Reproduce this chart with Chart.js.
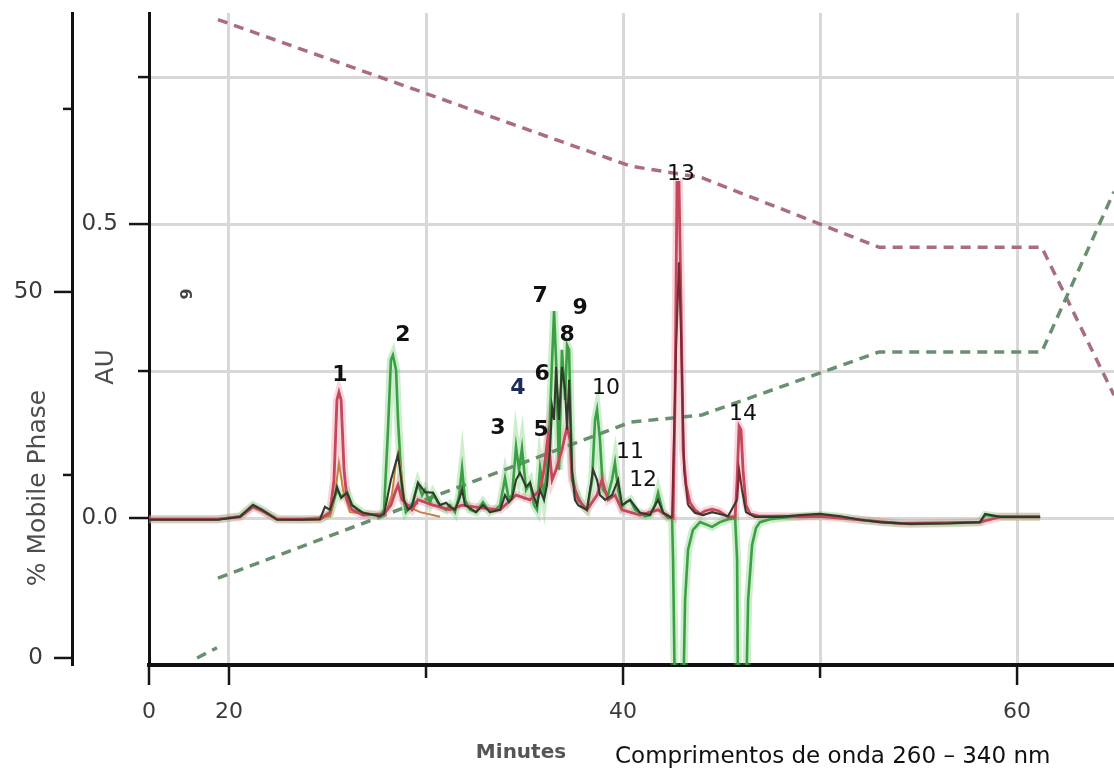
<!DOCTYPE html>
<html><head><meta charset="utf-8">
<style>html,body{margin:0;padding:0;background:#fff;} canvas{display:block;}</style>
<script src="https://cdn.jsdelivr.net/npm/chart.js@4.4.0/dist/chart.umd.min.js"></script>
</head><body>
<canvas id="c" width="1114" height="773"></canvas>
<script>
// ---------- axis ranges & ticks ----------
const xMin = 15.94, xMax = 64.92;
const xTickValues = [15.94, 20, 30, 40, 50, 60];
const xTickLabels = ['0', '20', '', '40', '', '60'];
const xMajorTicks = [15.94, 20, 40, 60];
const xMinorTicks = [30, 50];
const auMin = -0.25, auMax = 0.859;
const auTickValues = [0, 0.25, 0.5, 0.75];
const auTickLabels = ['0.0', '', '0.5', ''];
const auMajorTicks = [0, 0.5];
const auMinorTicks = [0.25, 0.75];
const pctMin = -0.96, pctMax = 88.1;
const pctTickValues = [0, 25, 50, 75];
const pctTickLabels = ['0', '', '50', ''];
const pctMajorTicks = [0, 50];
const pctMinorTicks = [25, 75];

// ---------- mobile phase gradient (%) ----------
const gradientMin = [19.44, 40.36, 44.0, 53.0, 61.25, 64.92];
const solventBPct = [87.2, 67.2, 65.6, 56.1, 56.1, 35.9];
const solventAPct = [10.9, 32.2, 33.2, 41.8, 41.8, 63.7];
const stubMin = [18.38, 19.39];
const stubPct = [0, 1.4];

// ---------- chromatogram traces (minutes, AU) ----------
const greenMin = [15.94,19.44,20.56,21.22,21.68,22.44,23.60,24.62,25.13,25.48,25.69,25.99,26.24,26.80,27.66,27.87,28.07,28.22,28.32,28.48,28.58,28.78,28.98,29.29,29.59,29.80,29.95,30.20,30.36,30.71,31.02,31.22,31.47,31.68,31.83,31.98,32.23,32.54,32.89,33.25,33.55,33.76,34.01,34.21,34.37,34.57,34.72,34.87,35.08,35.28,35.48,35.63,35.79,35.99,36.14,36.29,36.40,36.50,36.60,36.75,36.90,37.06,37.16,37.26,37.41,37.56,37.72,37.92,38.17,38.43,38.58,38.68,38.83,38.98,39.24,39.44,39.59,39.75,39.95,40.15,40.36,40.61,40.86,41.12,41.37,41.62,41.78,42.03,42.28,42.49,42.54,42.64,43.05,43.15,43.30,43.55,43.91,44.52,44.92,45.33,45.69,45.79,45.84,46.24,46.35,46.55,46.75,46.95,47.46,47.97,48.98,50.00,51.02,52.03,53.05,54.57,56.60,58.12,58.38,59.14,61.17];
const greenAU = [-0.002,-0.002,0.003,0.022,0.014,-0.002,-0.003,-0.002,0.007,0.048,0.036,0.044,0.022,0.009,0.003,0.014,0.150,0.269,0.277,0.252,0.167,0.048,0.010,0.022,0.058,0.039,0.048,0.026,0.041,0.020,0.014,0.022,0.010,0.039,0.085,0.031,0.014,0.010,0.027,0.010,0.015,0.022,0.068,0.031,0.039,0.121,0.082,0.119,0.048,0.060,0.022,0.014,0.085,0.039,0.082,0.167,0.269,0.352,0.269,0.082,0.286,0.201,0.294,0.286,0.077,0.048,0.036,0.022,0.014,0.065,0.167,0.184,0.133,0.048,0.039,0.065,0.094,0.048,0.019,0.027,0.031,0.014,0.009,0.003,0.005,0.022,0.043,0.009,0.000,0.000,-0.071,-0.320,-0.320,-0.139,-0.054,-0.020,-0.007,-0.015,-0.007,-0.002,0.000,-0.071,-0.320,-0.320,-0.139,-0.046,-0.017,-0.007,-0.002,0.000,0.003,0.005,0.002,-0.003,-0.007,-0.010,-0.009,-0.007,0.005,0.002,0.002];

const redMin = [15.94,19.44,20.56,21.22,21.68,22.44,24.62,25.13,25.33,25.48,25.58,25.69,25.84,25.99,26.24,26.80,27.87,28.22,28.48,28.58,28.78,29.29,29.59,30.36,31.22,31.83,32.89,33.76,34.57,35.28,35.79,35.99,36.19,36.40,36.60,36.90,37.16,37.31,37.41,37.72,38.17,38.68,38.93,39.24,39.59,39.95,40.86,41.78,42.28,42.54,42.64,42.74,42.84,42.94,43.05,43.20,43.40,43.65,43.91,44.16,44.52,44.87,45.33,45.69,45.79,45.89,45.99,46.09,46.24,46.45,46.95,47.97,48.98,50.00,52.03,54.06,58.12,59.14,61.17];
const redAU = [-0.002,-0.002,0.002,0.019,0.012,-0.002,-0.002,0.010,0.065,0.201,0.214,0.201,0.082,0.031,0.014,0.005,0.007,0.022,0.048,0.056,0.031,0.014,0.031,0.022,0.014,0.022,0.017,0.014,0.039,0.031,0.048,0.082,0.138,0.065,0.082,0.116,0.155,0.133,0.065,0.031,0.014,0.039,0.065,0.031,0.039,0.014,0.005,0.014,0.003,0.000,0.201,0.571,0.571,0.371,0.116,0.056,0.026,0.014,0.007,0.012,0.015,0.012,0.002,0.002,0.065,0.156,0.150,0.082,0.022,0.007,0.003,0.003,0.002,0.003,-0.003,-0.009,-0.007,0.002,0.002];

const darkMin = [15.94,19.44,20.56,21.22,21.68,22.44,23.60,24.62,24.87,25.13,25.38,25.48,25.69,25.99,26.24,26.55,26.80,27.66,27.87,28.22,28.43,28.58,28.68,28.88,29.09,29.29,29.59,29.95,30.36,30.71,31.02,31.22,31.47,31.68,31.83,31.98,32.23,32.54,32.89,33.25,33.76,34.01,34.21,34.37,34.57,34.77,35.08,35.28,35.48,35.63,35.79,35.99,36.14,36.29,36.40,36.50,36.60,36.75,36.90,37.06,37.16,37.26,37.41,37.56,37.72,38.17,38.48,38.68,38.83,39.09,39.44,39.75,39.95,40.36,40.86,41.37,41.78,42.03,42.49,42.69,42.84,42.94,43.10,43.30,43.65,44.06,44.52,44.92,45.33,45.79,45.89,46.04,46.24,46.70,47.97,48.98,50.00,51.02,52.03,53.05,54.57,56.60,58.12,58.38,59.14,61.17];
const darkAU = [-0.003,-0.003,0.002,0.022,0.014,-0.003,-0.003,-0.002,0.019,0.014,0.039,0.053,0.034,0.043,0.022,0.014,0.009,0.003,0.007,0.065,0.090,0.107,0.082,0.031,0.014,0.020,0.060,0.044,0.043,0.022,0.026,0.019,0.014,0.031,0.048,0.022,0.017,0.010,0.022,0.010,0.014,0.039,0.027,0.034,0.065,0.077,0.053,0.060,0.036,0.022,0.048,0.031,0.056,0.116,0.189,0.167,0.257,0.167,0.257,0.218,0.150,0.235,0.082,0.031,0.022,0.014,0.082,0.065,0.039,0.031,0.039,0.065,0.022,0.031,0.009,0.005,0.031,0.009,0.000,0.286,0.435,0.320,0.082,0.022,0.009,0.005,0.010,0.007,0.003,0.031,0.082,0.048,0.010,0.002,0.002,0.005,0.007,0.003,-0.003,-0.007,-0.010,-0.009,-0.007,0.007,0.002,0.002];

const orangeMin = [23.60,25.13,25.38,25.58,25.79,26.14,27.92,28.27,28.48,28.58,28.73,28.93,29.70,30.71];
const orangeAU = [-0.002,0.003,0.039,0.094,0.048,0.010,0.005,0.039,0.095,0.111,0.082,0.022,0.010,0.002];

// ---------- peak labels ----------
const peakNames = ['1','2','3','4','5','6','7','8','9','10','11','12','13','14'];
const peakMin = [25.63,28.83,33.65,34.67,35.84,35.89,35.79,37.16,37.82,39.14,40.36,41.02,42.94,46.09];
const peakAU = [0.243,0.310,0.153,0.221,0.150,0.245,0.378,0.311,0.357,0.221,0.111,0.065,0.585,0.177];

const pts = (xs, ys) => xs.map((x, i) => ({x: x, y: ys[i]}));

const decor = {
  id: 'decor',
  afterDatasetsDraw(chart) {
    const ctx = chart.ctx, sx = chart.scales.x, sy = chart.scales.yAU;
    ctx.save();
    ctx.textAlign = 'center'; ctx.textBaseline = 'middle';
    peakNames.forEach((n, i) => {
      ctx.font = (n.length === 1 ? 'bold ' : '') + '22px "DejaVu Sans"';
      ctx.fillStyle = n === '4' ? '#1f2d5c' : '#111';
      ctx.fillText(n, sx.getPixelForValue(peakMin[i]), sy.getPixelForValue(peakAU[i]));
    });
    ctx.restore();
  },
  afterDraw(chart) {
    const ctx = chart.ctx, sx = chart.scales.x, au = chart.scales.yAU, pc = chart.scales.yPct;
    ctx.save();
    ctx.strokeStyle = '#161616'; ctx.lineWidth = 2.5;
    const hl = (x1, y1, x2, y2) => { ctx.beginPath(); ctx.moveTo(x1, y1); ctx.lineTo(x2, y2); ctx.stroke(); };
    auMajorTicks.forEach(v => { const y = au.getPixelForValue(v); hl(au.right - 20, y, au.right, y); });
    auMinorTicks.forEach(v => { const y = au.getPixelForValue(v); hl(au.right - 11, y, au.right, y); });
    pctMajorTicks.forEach(v => { const y = pc.getPixelForValue(v); hl(pc.right - 18, y, pc.right, y); });
    pctMinorTicks.forEach(v => { const y = pc.getPixelForValue(v); hl(pc.right - 9, y, pc.right, y); });
    xMajorTicks.forEach(v => { const x = sx.getPixelForValue(v); hl(x, sx.top, x, sx.top + 20); });
    xMinorTicks.forEach(v => { const x = sx.getPixelForValue(v); hl(x, sx.top, x, sx.top + 13); });

    ctx.textAlign = 'center'; ctx.textBaseline = 'middle';
    ctx.fillStyle = '#4d4d4d';
    ctx.font = '25px "DejaVu Sans"';
    ctx.save(); ctx.translate(38, 488); ctx.rotate(-Math.PI / 2); ctx.fillText('% Mobile Phase', 0, 0); ctx.restore();
    ctx.save(); ctx.translate(106, 367); ctx.rotate(-Math.PI / 2); ctx.fillText('AU', 0, 0); ctx.restore();
    ctx.font = 'bold 16px "DejaVu Sans"'; ctx.fillStyle = '#444';
    ctx.save(); ctx.translate(188, 294); ctx.rotate(-Math.PI / 2); ctx.fillText('9', 0, 0); ctx.restore();

    ctx.font = 'bold 20px "DejaVu Sans"'; ctx.fillStyle = '#555';
    ctx.fillText('Minutes', 521, 753);
    ctx.textAlign = 'left'; ctx.fillStyle = '#111';
    ctx.font = '23px "DejaVu Sans"';
    ctx.fillText('Comprimentos de onda 260 \u2013 340 nm', 615, 757);
    ctx.restore();
  }
};

const yTickFont = {family: 'DejaVu Sans', size: 23};
const xTickFont = {family: 'DejaVu Sans', size: 22};

new Chart(document.getElementById('c'), {
  type: 'line',
  data: {
    datasets: [
      {data: pts(greenMin, greenAU), yAxisID: 'yAU', borderColor: 'rgba(110,205,110,0.35)', borderWidth: 8, order: 20},
      {data: pts(redMin, redAU), yAxisID: 'yAU', borderColor: 'rgba(235,140,160,0.35)', borderWidth: 8, order: 19},
      {data: pts(gradientMin, solventBPct), yAxisID: 'yPct', borderColor: '#a96e7d', borderWidth: 3.5, borderDash: [10, 7], order: 15},
      {data: pts(gradientMin, solventAPct), yAxisID: 'yPct', borderColor: '#6a8f70', borderWidth: 3.5, borderDash: [10, 7], order: 14},
      {data: pts(stubMin, stubPct), yAxisID: 'yPct', borderColor: '#6a8f70', borderWidth: 3.5, borderDash: [10, 7], order: 14},
      {data: pts(greenMin, greenAU), yAxisID: 'yAU', borderColor: '#3d9f45', borderWidth: 2.6, order: 10},
      {data: pts(orangeMin, orangeAU), yAxisID: 'yAU', borderColor: '#c9803f', borderWidth: 2, order: 9},
      {data: pts(redMin, redAU), yAxisID: 'yAU', borderColor: '#c4475a', borderWidth: 2.8, order: 8},
      {data: pts(darkMin, darkAU), yAxisID: 'yAU', borderColor: '#323a2c', borderWidth: 2.1, order: 7,
       segment: {borderColor: c => (c.p0.parsed.x > 42.4 && c.p1.parsed.x < 46.4 && (c.p0.parsed.y > 0.05 || c.p1.parsed.y > 0.05)) ? '#7a2a35' : undefined}}
    ]
  },
  options: {
    responsive: false,
    animation: false,
    events: [],
    layout: {padding: {top: 13, left: 0, right: 0, bottom: 0}},
    plugins: {legend: {display: false}, tooltip: {enabled: false}},
    elements: {point: {radius: 0}, line: {tension: 0}},
    scales: {
      x: {
        type: 'linear', axis: 'x', position: 'bottom', min: xMin, max: xMax,
        afterBuildTicks: s => { s.ticks = xTickValues.map(v => ({value: v})); },
        afterFit: s => { s.height = 108; s.paddingLeft = 0; s.paddingRight = 0; },
        ticks: {callback: (v, i) => xTickLabels[i], font: xTickFont, color: '#3a3a3a', padding: 34, maxRotation: 0, autoSkip: false},
        grid: {color: c => (c.index === 0 ? 'rgba(0,0,0,0)' : '#d8d8d8'), lineWidth: 3, drawTicks: false},
        border: {color: '#111', width: 4}
      },
      yAU: {
        type: 'linear', axis: 'y', position: 'left', weight: 0, min: auMin, max: auMax,
        afterBuildTicks: s => { s.ticks = auTickValues.map(v => ({value: v})); },
        afterFit: s => { s.width = 77; s.paddingTop = 0; s.paddingBottom = 0; },
        ticks: {callback: (v, i) => auTickLabels[i], font: yTickFont, color: '#3a3a3a', padding: 31, autoSkip: false},
        grid: {color: '#d8d8d8', lineWidth: 3, drawTicks: false},
        border: {color: '#111', width: 3}
      },
      yPct: {
        type: 'linear', axis: 'y', position: 'left', weight: 1, min: pctMin, max: pctMax,
        afterBuildTicks: s => { s.ticks = pctTickValues.map(v => ({value: v})); },
        afterFit: s => { s.width = 72; s.paddingTop = 0; s.paddingBottom = 0; },
        ticks: {callback: (v, i) => pctTickLabels[i], font: yTickFont, color: '#3a3a3a', padding: 29, autoSkip: false},
        grid: {drawOnChartArea: false, drawTicks: false},
        border: {color: '#111', width: 3}
      }
    }
  },
  plugins: [decor]
});
</script>
</body></html>
